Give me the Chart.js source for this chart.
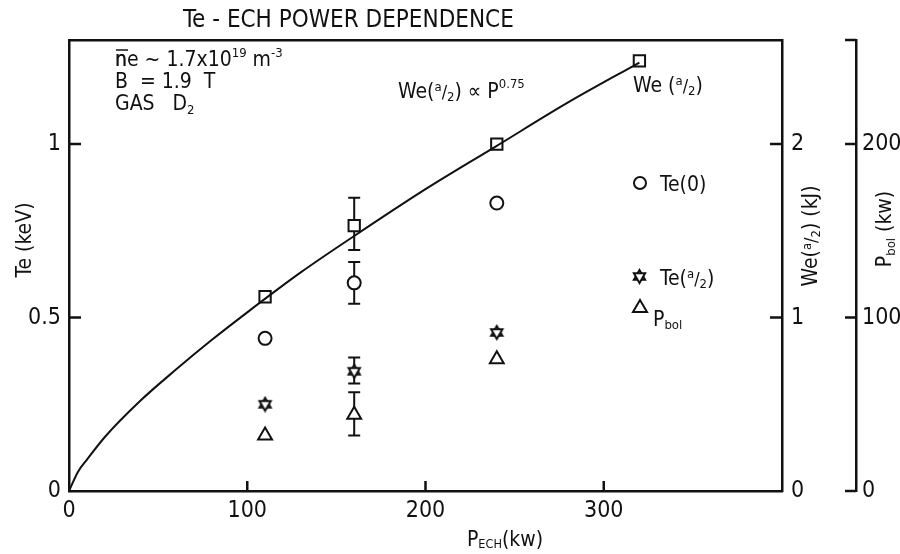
<!DOCTYPE html>
<html>
<head>
<meta charset="utf-8">
<script src="https://cdn.jsdelivr.net/npm/chart.js@4"></script>
<style>
    html, body { margin: 0; background: #fff; }
    #wrap { width: 900px; height: 554px; }
</style>
</head>
<body>
<div id="wrap"><canvas id="teChart"></canvas></div>
<script>
// values
const power = [110, 160, 240, 320];
const weHalf = [1.12, 1.53, 2.0, 2.48];
const weHalfErr = [null, [1.39, 1.69], null, null];

const powerTe = [110, 160, 240];
const te0 = [0.44, 0.60, 0.83];
const te0Err = [null, [0.54, 0.66], null];
const teHalf = [0.25, 0.345, 0.457];
const teHalfErr = [null, [0.31, 0.385], null];
const pbol = [32, 44, 76];
const pbolErr = [null, [32, 57], null];

// We(a/2) ~ P^0.75 curve
const fitPower = [0, 5, 10, 20, 40, 60, 80, 100, 130, 160, 200, 240, 280, 320];
const fitWe = [0, 0.11, 0.18, 0.31, 0.52, 0.70, 0.87, 1.03, 1.26, 1.47, 1.74, 1.99, 2.24, 2.47];

const xTicks = [0, 100, 200, 300];
const teTicks = [0, 0.5, 1];
const weTicks = [0, 1, 2];
const pbolTicks = [0, 100, 200];

const FONT = "'Liberation Sans Narrow', 'DejaVu Sans Condensed', 'Liberation Sans', sans-serif";
const INK = '#111';
const HALF = [['(', 1], ['a', 0.62, -0.32], ['/', 0.85, -0.02], ['2', 0.62, 0.12], [')', 1]];

function toPoints(xs, ys) {
    return xs.map((x, i) => ({x: x, y: ys[i]}));
}

function makeHexagram(size) {
    let c = document.createElement('canvas');
    c.width = size; c.height = size;
    let g = c.getContext('2d');
    let r = size / 2 - 2, m = size / 2;
    g.strokeStyle = INK; g.lineWidth = 2; g.fillStyle = '#fff';
    [-Math.PI / 2, Math.PI / 2].forEach(a0 => {
        g.beginPath();
        for (let k = 0; k < 3; k++) {
            let a = a0 + k * 2 * Math.PI / 3;
            g.lineTo(m + r * Math.cos(a), m + r * Math.sin(a));
        }
        g.closePath();
        g.fill(); g.stroke();
    });
    return c;
}
const hexagram = makeHexagram(17);

function drawRich(ctx, x, y, parts, size, align) {
    let widths = parts.map(p => {
        ctx.font = (size * (p[1] || 1)) + 'px ' + FONT;
        return ctx.measureText(p[0]).width;
    });
    let total = widths.reduce((a, b) => a + b, 0);
    let cx = align === 'center' ? x - total / 2 : x;
    ctx.textAlign = 'left';
    ctx.textBaseline = 'alphabetic';
    parts.forEach((p, i) => {
        ctx.font = (size * (p[1] || 1)) + 'px ' + FONT;
        ctx.fillText(p[0], cx, y + (p[2] || 0) * size);
        cx += widths[i];
    });
    return total;
}

function drawRotated(ctx, x, y, parts, size) {
    ctx.save();
    ctx.translate(x, y);
    ctx.rotate(-Math.PI / 2);
    drawRich(ctx, 0, size * 0.35, parts, size, 'center');
    ctx.restore();
}

function tickMarks(ctx, scale, values, edge, len, horizontal) {
    ctx.beginPath();
    values.forEach(v => {
        let p = scale.getPixelForValue(v);
        if (horizontal) { ctx.moveTo(p, edge); ctx.lineTo(p, edge + len); }
        else { ctx.moveTo(edge, p); ctx.lineTo(edge + len, p); }
    });
    ctx.stroke();
}

const errorBars = {
    id: 'errorBars',
    beforeDatasetsDraw(chart) {
        let ctx = chart.ctx;
        ctx.save();
        ctx.strokeStyle = INK;
        ctx.lineWidth = 2;
        chart.data.datasets.forEach(ds => {
            if (!ds.errors) return;
            let ys = chart.scales[ds.yAxisID];
            ds.errors.forEach((e, i) => {
                if (!e) return;
                let x = chart.scales.x.getPixelForValue(ds.data[i].x);
                let lo = ys.getPixelForValue(e[0]), hi = ys.getPixelForValue(e[1]);
                ctx.beginPath();
                ctx.moveTo(x, lo); ctx.lineTo(x, hi);
                ctx.moveTo(x - 6, lo); ctx.lineTo(x + 6, lo);
                ctx.moveTo(x - 6, hi); ctx.lineTo(x + 6, hi);
                ctx.stroke();
            });
        });
        ctx.restore();
    }
};

const decorations = {
    id: 'decorations',
    afterDraw(chart) {
        let ctx = chart.ctx;
        let a = chart.chartArea;
        let s = chart.scales;
        ctx.save();
        ctx.strokeStyle = INK;
        ctx.fillStyle = INK;
        ctx.lineWidth = 2.5;
        tickMarks(ctx, s.x, [100, 200, 300], a.bottom, -10, true);
        tickMarks(ctx, s.y, [0.5, 1], a.left, 12, false);
        tickMarks(ctx, s.y2, [1, 2], a.right, -12, false);
        tickMarks(ctx, s.y3, [0, 100, 200, 260], s.y3.left, -11, false);

        // title and run conditions
        drawRich(ctx, 183, 27, [['Te - ECH POWER DEPENDENCE']], 24);
        let nw = drawRich(ctx, 115, 66, [['n']], 21);
        ctx.lineWidth = 1.5;
        ctx.beginPath(); ctx.moveTo(116, 50); ctx.lineTo(116 + nw, 50); ctx.stroke();
        drawRich(ctx, 115, 66, [['ne ~ 1.7x10'], ['19', 0.62, -0.42], [' m'], ['-3', 0.62, -0.42]], 21);
        drawRich(ctx, 115, 88, [['B  = 1.9  T']], 21);
        drawRich(ctx, 115, 110, [['GAS   D'], ['2', 0.62, 0.18]], 21);

        drawRich(ctx, 398, 98, [['We']].concat(HALF, [[' \u221D P'], ['0.75', 0.62, -0.48]]), 21);
        drawRich(ctx, 633, 92, [['We ']].concat(HALF), 21);

        // in-plot key
        ctx.lineWidth = 2;
        ctx.beginPath(); ctx.arc(640, 183, 6, 0, 2 * Math.PI); ctx.stroke();
        drawRich(ctx, 660, 191, [['Te(0)']], 21);
        ctx.drawImage(hexagram, 631, 268);
        drawRich(ctx, 660, 285, [['Te']].concat(HALF), 21);
        ctx.beginPath();
        ctx.moveTo(640, 300); ctx.lineTo(647, 312); ctx.lineTo(633, 312); ctx.closePath(); ctx.stroke();
        drawRich(ctx, 653, 326, [['P'], ['bol', 0.62, 0.15]], 21);

        // axis titles
        drawRich(ctx, 505, 546, [['P'], ['ECH', 0.6, 0.1], ['(kw)']], 21, 'center');
        drawRotated(ctx, 24, 240, [['Te (keV)']], 21);
        drawRotated(ctx, 810, 236, [['We']].concat(HALF, [[' (kJ)']]), 21);
        drawRotated(ctx, 884, 229, [['P'], ['bol', 0.62, 0.15], [' (kw)']], 21);
        ctx.restore();
    }
};

function fixTicks(values) {
    return function (scale) {
        scale.ticks = values.map(v => ({value: v}));
    };
}

function fixSize(prop, size) {
    return function (scale) {
        scale[prop] = size;
    };
}

const tickFont = {family: FONT, size: 23};
const axisBorder = {display: true, color: INK, width: 2.5};

function valueAxis(position, max, ticks, width, pad) {
    return {
        type: 'linear',
        position: position,
        min: 0,
        max: max,
        afterBuildTicks: fixTicks(ticks),
        afterFit: fixSize('width', width),
        grid: {display: false, drawTicks: false},
        border: axisBorder,
        ticks: {font: tickFont, color: INK, padding: pad, callback: v => String(v)}
    };
}

function create_te_chart() {
    let ctx = document.getElementById('teChart');
    new Chart(ctx, {
        data: {
            datasets: [
                {
                    type: 'line',
                    data: toPoints(fitPower, fitWe),
                    yAxisID: 'y2',
                    borderColor: INK,
                    borderWidth: 2,
                    pointRadius: 0,
                    cubicInterpolationMode: 'monotone'
                },
                {
                    type: 'scatter',
                    data: toPoints(power, weHalf),
                    errors: weHalfErr,
                    yAxisID: 'y2',
                    pointStyle: 'rect',
                    pointRadius: 8,
                    borderColor: INK,
                    backgroundColor: '#fff',
                    borderWidth: 2
                },
                {
                    type: 'scatter',
                    data: toPoints(powerTe, te0),
                    errors: te0Err,
                    yAxisID: 'y',
                    pointStyle: 'circle',
                    pointRadius: 6.5,
                    borderColor: INK,
                    backgroundColor: '#fff',
                    borderWidth: 2
                },
                {
                    type: 'scatter',
                    data: toPoints(powerTe, teHalf),
                    errors: teHalfErr,
                    yAxisID: 'y',
                    pointStyle: hexagram,
                    pointRadius: 8
                },
                {
                    type: 'scatter',
                    data: toPoints(powerTe, pbol),
                    errors: pbolErr,
                    yAxisID: 'y3',
                    pointStyle: 'triangle',
                    pointRadius: 8,
                    borderColor: INK,
                    backgroundColor: '#fff',
                    borderWidth: 2
                }
            ]
        },
        options: {
            responsive: true,
            maintainAspectRatio: false,
            animation: false,
            layout: {padding: {top: 40, left: 0, right: 0, bottom: 0}},
            plugins: {legend: {display: false}, tooltip: {enabled: false}},
            scales: {
                x: {
                    type: 'linear',
                    position: 'bottom',
                    min: 0,
                    max: 400,
                    afterBuildTicks: fixTicks(xTicks),
                    afterFit: fixSize('height', 63),
                    grid: {display: false, drawTicks: false},
                    border: axisBorder,
                    ticks: {font: tickFont, color: INK, padding: 6, maxRotation: 0, callback: v => String(v)}
                },
                xTop: {
                    type: 'linear',
                    position: 'top',
                    min: 0,
                    max: 400,
                    afterFit: fixSize('height', 0),
                    grid: {display: false, drawTicks: false},
                    border: axisBorder,
                    ticks: {display: false}
                },
                y: valueAxis('left', 1.3, teTicks, 69, 8),
                y2: valueAxis('right', 2.6, weTicks, 74, 9),
                y3: valueAxis('right', 260, pbolTicks, 44, 6)
            }
        },
        plugins: [errorBars, decorations]
    });
}

create_te_chart();
</script>
</body>
</html>
